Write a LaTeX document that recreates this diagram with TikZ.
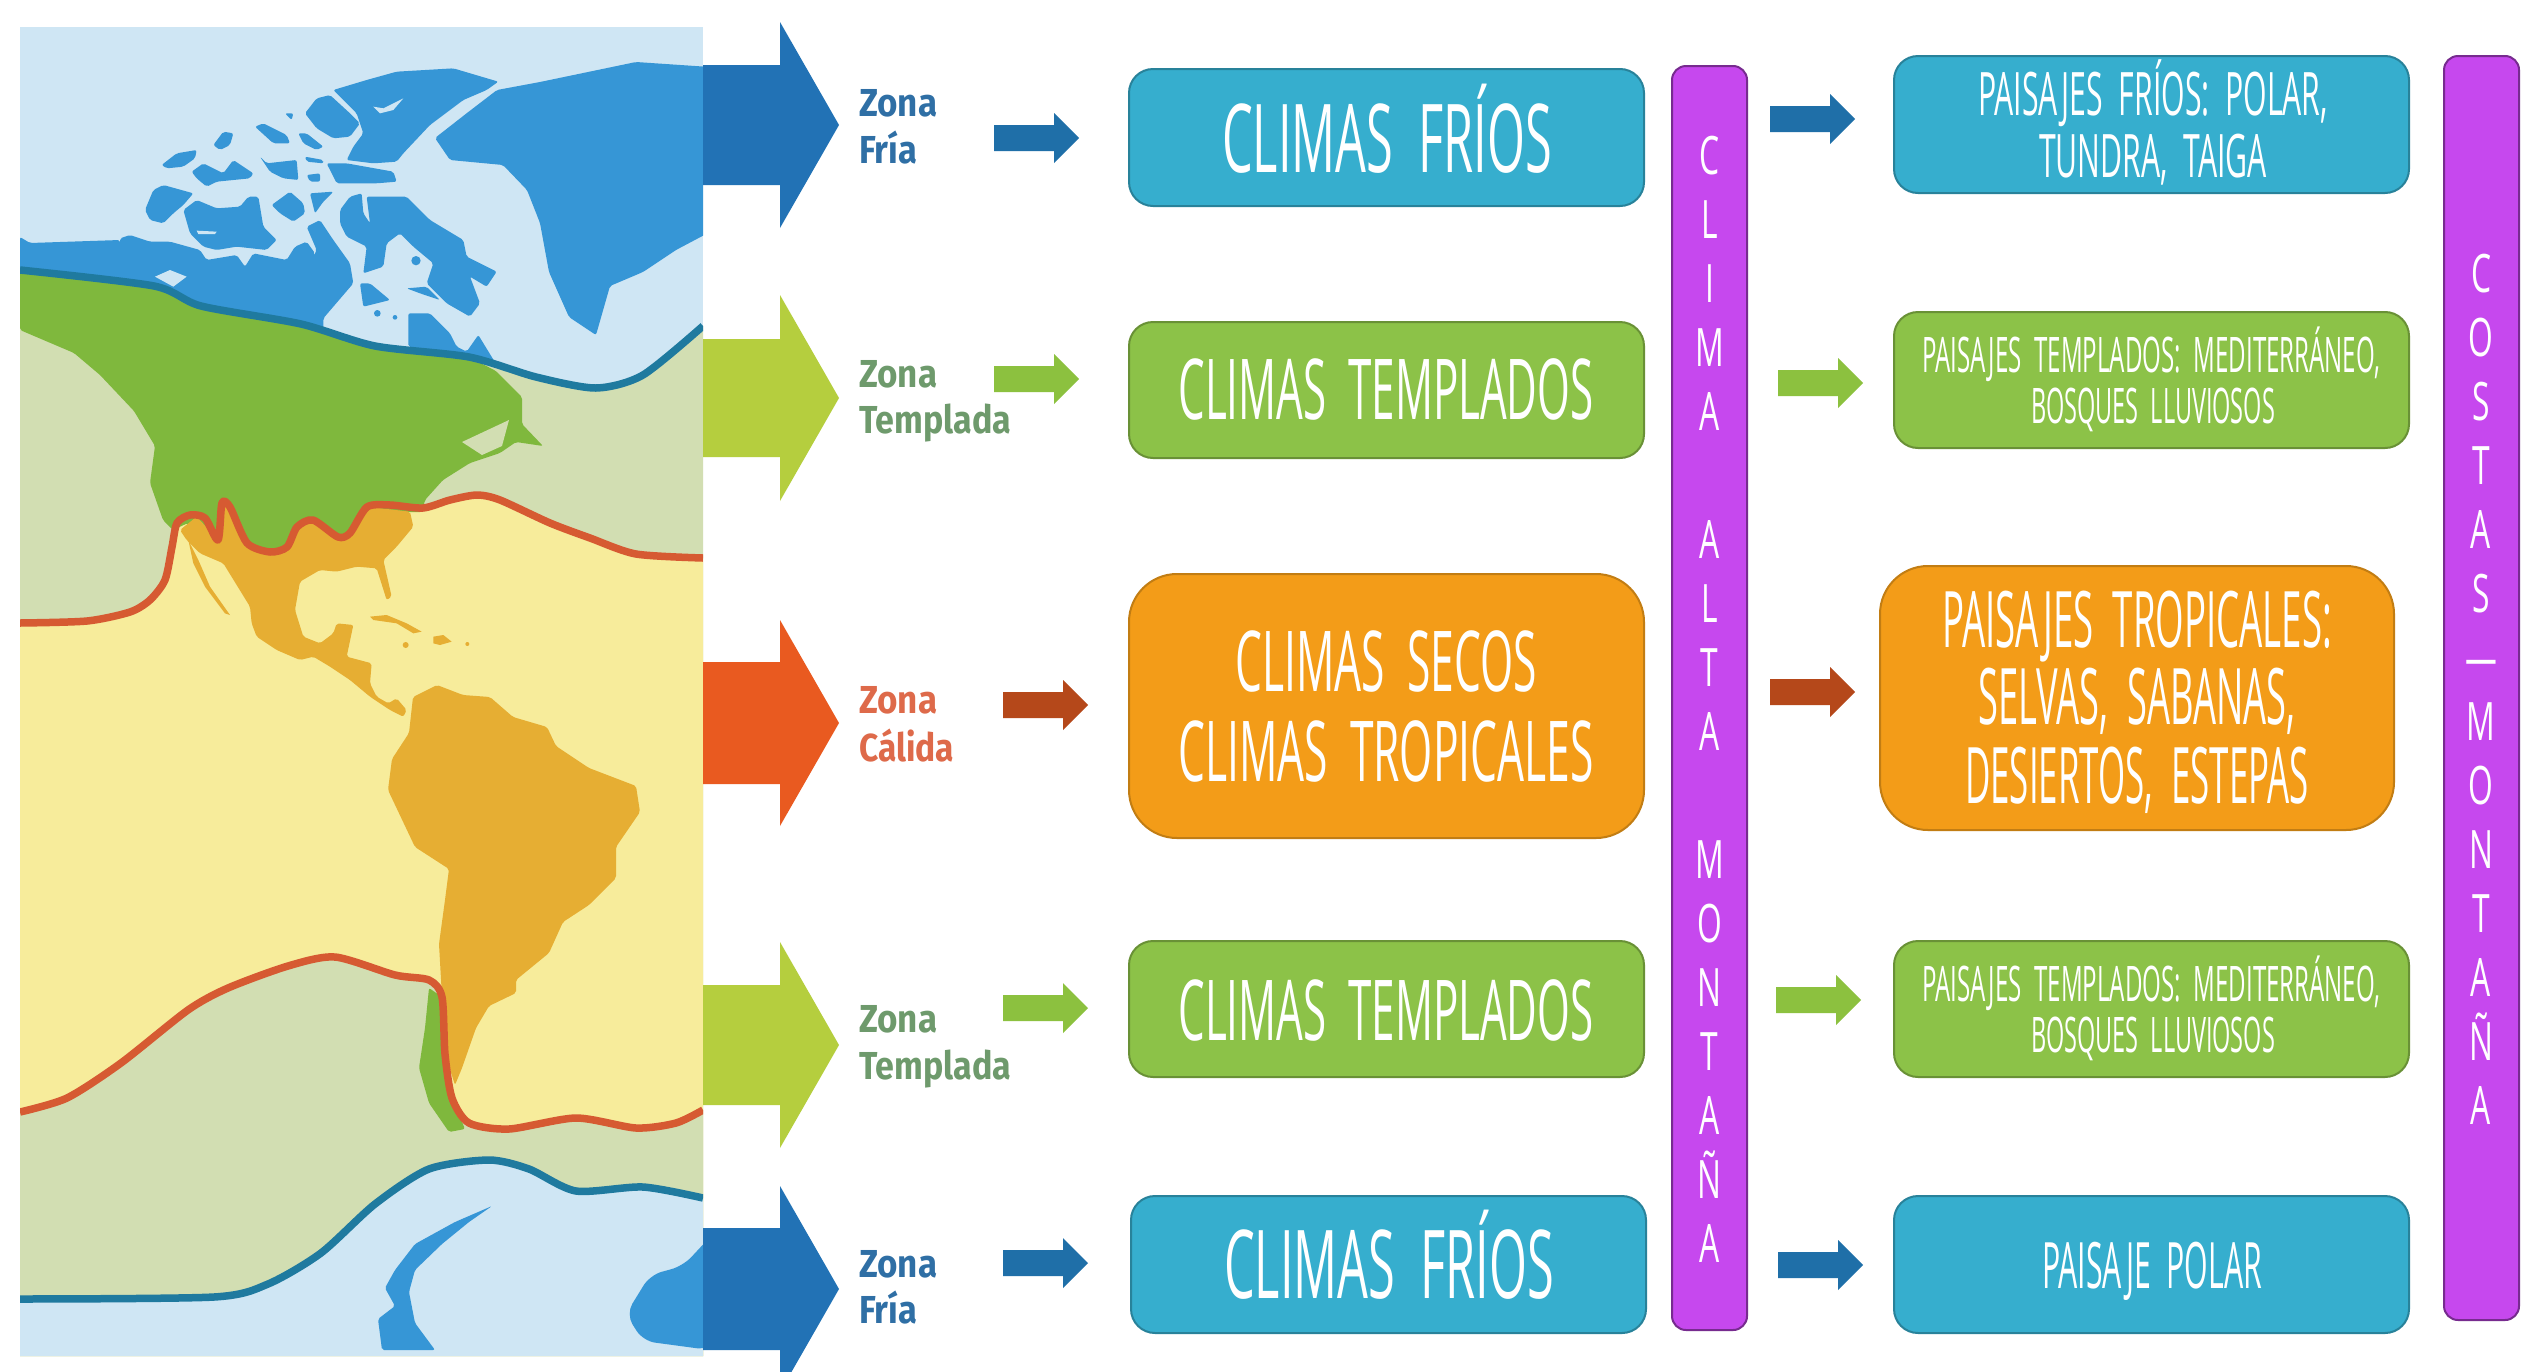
\documentclass[tikz,border=0pt]{standalone}
\usepackage{fontspec}
\usepackage{graphicx}
\setmainfont{Open Sans}
\newfontfamily\hand{Open Sans}
\newfontfamily\handv[FakeStretch=0.6]{Open Sans}
\newfontfamily\zonaf{Fira Sans}
\definecolor{iceblue}{HTML}{CFE6F4}
\definecolor{tempz}{HTML}{D2DEB2}
\definecolor{tropz}{HTML}{F7EC9B}
\definecolor{landblue}{HTML}{3696D6}
\definecolor{landgreen}{HTML}{7FB83D}
\definecolor{landor}{HTML}{E6AE33}
\definecolor{linered}{HTML}{D65A32}
\definecolor{lineblue}{HTML}{1F7A9F}
\definecolor{bigblue}{HTML}{2272B5}
\definecolor{biggreen}{HTML}{B5CE3E}
\definecolor{bigred}{HTML}{E95A20}
\definecolor{arrblue}{HTML}{1F6FA8}
\definecolor{arrgreen}{HTML}{8CC13F}
\definecolor{arrrust}{HTML}{B5481A}
\definecolor{boxteal}{HTML}{36AECE}
\definecolor{boxgreen}{HTML}{8CC248}
\definecolor{boxorange}{HTML}{F39C18}
\definecolor{boxpurple}{HTML}{C648EE}
\definecolor{txblue}{HTML}{2F6FA5}
\definecolor{txgreen}{HTML}{6E9A6C}
\definecolor{txred}{HTML}{DE6A4A}
\newcommand\fitw[3]{{\fontsize{#2}{#2}\selectfont\resizebox{#1pt}{\height}{#3}}}
\newcommand\zonafit[2]{{\fontsize{39}{39}\selectfont\resizebox{#1pt}{\height}{#2}}}
\newcommand\blockarrow[7]{\fill[#1] (#2,#3-#6) -- (#4,#3-#6) -- (#4,#3-#7) -- (#5,#3) -- (#4,#3+#7) -- (#4,#3+#6) -- (#2,#3+#6) -- cycle;}
\newcommand\smallarrow[3]{\blockarrow{#1}{#2}{#3}{#2+60}{#2+85}{13}{25}}
\def\bN{(20,270)(154,286)(201,306)(301,324)(375,346)(469,357)(536,377)(596,388)(643,375)(703,326)}
\def\bU{(20,623)(87,621)(130,612)(150,600)(165,580)(172,547)(177,523)(190,515)(205,518)(218,540)(222,503)(230,507)(247,543)(270,552)(287,547)(297,527)(313,520)(338,537)(350,533)(367,507)(390,505)(423,508)(450,500)(477,495)(500,500)(550,523)(590,538)(636,554)(703,558)}
\def\bL{(20,1112)(67,1098)(121,1063)(188,1010)(228,988)(288,966)(335,957)(395,975)(429,980)(442,997)(445,1054)(452,1098)(469,1123)(509,1129)(576,1118)(636,1128)(676,1123)(703,1110)}
\def\bS{(20,1299)(214,1297)(268,1284)(321,1253)(375,1204)(429,1169)(489,1160)(529,1169)(576,1191)(643,1187)(703,1198)}
\tikzset{
 x=1pt,y=-1pt,
 softplot/.style={smooth,tension=.45},
 zoneline/.style={line width=7.5pt,line join=round},
 land/.style={rounded corners=2pt},
 climabox/.style={draw,line width=2pt,rounded corners=#1},
 climabox/.default=24pt,
 tealbox/.style={fill=boxteal,draw=boxteal!75!black},
 greenbox/.style={fill=boxgreen,draw=boxgreen!75!black},
 orangebox/.style={fill=boxorange,draw=boxorange!80!black},
 purplebox/.style={fill=boxpurple,draw=boxpurple!60!black,draw,line width=2pt,rounded corners=14pt},
 boxtext/.style={anchor=base,text=white,inner sep=0pt,font=\hand},
 columntext/.style={text=white,inner sep=0pt,align=center,font=\handv\fontsize{53}{64}\selectfont},
 zonatext/.style={anchor=base west,inner sep=0pt,font=\zonaf\bfseries},
}
\begin{document}
\begin{tikzpicture}
\useasboundingbox (0,0) rectangle (2521,1371);
\fill[white] (0,0) rectangle (2521,1371);
\begin{scope}
\clip (20,27) rectangle (703,1356);
\fill[iceblue] (20,27) rectangle (703,1356);
\fill[tempz] plot[softplot] coordinates {\bN} -- (703,1356) -- (20,1356) -- cycle;
\fill[tropz] plot[softplot] coordinates {\bU} -- (703,1356) -- (20,1356) -- cycle;
\fill[tempz] plot[softplot] coordinates {\bL} -- (703,1356) -- (20,1356) -- cycle;
\fill[iceblue] plot[softplot] coordinates {\bS} -- (703,1356) -- (20,1356) -- cycle;
% Greenland, southern lands, west Arctic coast
\begin{scope}[landblue]
\fill[land] (435,138) -- (467,113) -- (497,90) -- (540,82) -- (636,62) -- (710,67) -- (710,232) -- (676,250) -- (643,272) -- (610,286) -- (596,335) -- (569,317) -- (549,272) -- (540,223) -- (527,190) -- (503,165) -- (450,160) -- cycle;
\fill[iceblue] (520,205) -- (535,225) -- (540,255) -- (530,240) -- cycle;
\fill[land] (20,237) -- (30,243) -- (120,240) -- (130,300) -- (20,300) -- cycle;
\fill[land] (492,1206) -- (455,1222) -- (415,1244) -- (395,1270) -- (385,1288) -- (395,1306) -- (378,1319) -- (382,1350) -- (435,1350) -- (415,1323) -- (409,1292) -- (415,1270) -- (442,1244) -- (469,1222) -- cycle;
\fill[rounded corners=12pt] (710,1237) -- (683,1266) -- (650,1275) -- (626,1314) -- (643,1341) -- (710,1350) -- cycle;
\end{scope}
% Canadian Arctic, traced in a local grid
\begin{scope}[shift={(120,50)},x=.33333pt,y=-.33333pt,landblue]
\fill[land] (0,565) -- (30,555) -- (90,575) -- (150,575) -- (240,600) -- (260,630) -- (350,615) -- (375,650) -- (400,610) -- (500,630) -- (525,590) -- (560,575) -- (585,610) -- (570,640) -- (590,600) -- (560,530) -- (600,510) -- (640,570) -- (690,640) -- (700,700) -- (640,770) -- (610,805) -- (610,840) -- (480,810) -- (300,785) -- (190,770) -- (130,720) -- (0,700) -- cycle;
\fill[iceblue] (105,680) -- (150,660) -- (200,680) -- (160,710) -- cycle;
\fill[land] (75,480) -- (100,420) -- (130,405) -- (220,430) -- (190,465) -- (160,490) -- (130,520) -- (90,510) -- cycle;
\fill[land] (190,480) -- (230,450) -- (290,475) -- (360,470) -- (385,440) -- (415,440) -- (430,530) -- (470,570) -- (440,600) -- (350,590) -- (290,600) -- (250,590) -- (210,550) -- cycle;
\fill[iceblue] (230,542) -- (290,545) -- (285,552) -- (235,552) -- cycle;
\fill[land] (125,345) -- (170,310) -- (230,300) -- (225,325) -- (190,350) -- (140,355) -- cycle;
\fill[land] (215,365) -- (250,340) -- (310,370) -- (340,330) -- (400,370) -- (390,385) -- (290,395) -- (260,410) -- (230,385) -- cycle;
\fill[land] (280,285) -- (310,245) -- (340,250) -- (330,285) -- (300,300) -- cycle;
\fill[land] (405,230) -- (430,220) -- (500,255) -- (510,280) -- (460,280) -- cycle;
\fill[land] (495,190) -- (520,190) -- (515,210) -- cycle;
\fill[land] (535,250) -- (560,250) -- (610,290) -- (590,300) -- (550,280) -- cycle;
\fill[land] (420,320) -- (440,340) -- (530,330) -- (535,390) -- (490,385) -- (450,365) -- cycle;
\fill[land] (555,320) -- (610,330) -- (610,340) -- (560,335) -- cycle;
\fill[land] (560,375) -- (600,370) -- (600,395) -- (570,395) -- cycle;
\fill[land] (555,190) -- (590,145) -- (630,135) -- (690,190) -- (720,220) -- (690,260) -- (640,265) -- (590,235) -- cycle;
\fill[land] (640,120) -- (740,90) -- (830,65) -- (1000,55) -- (1135,95) -- (1100,120) -- (1030,150) -- (930,225) -- (850,310) -- (830,335) -- (760,340) -- (680,330) -- (700,290) -- (730,250) -- (710,190) -- cycle;
\fill[iceblue] (760,170) -- (790,175) -- (850,145) -- (820,180) -- (780,190) -- cycle;
\fill[land] (620,340) -- (680,340) -- (820,365) -- (830,395) -- (770,400) -- (650,400) -- cycle;
\fill[land] (455,465) -- (510,425) -- (550,460) -- (555,490) -- (520,515) -- (480,490) -- cycle;
\fill[land] (570,430) -- (640,425) -- (610,455) -- (585,490) -- cycle;
\fill[land] (660,480) -- (690,440) -- (725,430) -- (730,490) -- (750,520) -- (740,440) -- (790,440) -- (860,440) -- (930,510) -- (1030,570) -- (1040,620) -- (1130,665) -- (1100,710) -- (1050,680) -- (1080,760) -- (1050,800) -- (980,760) -- (920,700) -- (940,640) -- (880,590) -- (840,550) -- (800,580) -- (790,650) -- (730,670) -- (740,590) -- (680,560) -- (660,520) -- cycle;
\fill[land] (860,715) -- (920,710) -- (960,750) -- (900,730) -- cycle;
\fill[land] (720,700) -- (750,700) -- (810,750) -- (730,770) -- cycle;
\fill[land] (865,790) -- (930,790) -- (990,850) -- (1010,890) -- (1040,905) -- (1075,855) -- (1130,945) -- (865,890) -- cycle;
\fill (888,632) circle (14);
\fill (772,790) circle (10);
\fill (825,802) circle (7);
\end{scope}
% North America
\fill[landgreen,land] (20,270) -- (154,286) -- (201,306) -- (301,324) -- (375,346) -- (469,357) -- (496,371) -- (522,397) -- (522,424) -- (543,446) -- (516,442) -- (500,453) -- (470,463) -- (443,480) -- (425,500) -- (422,512) -- (382,512) -- (362,518) -- (342,540) -- (311,525) -- (288,550) -- (268,556) -- (248,547) -- (221,508) -- (218,545) -- (188,523) -- (173,530) -- (163,520) -- (150,483) -- (155,446) -- (134,411) -- (100,375) -- (74,353) -- (20,330) -- cycle;
\fill[tempz] (462,442) -- (509,420) -- (502,446) -- (482,455) -- cycle;
% Mexico, Central America, Caribbean
\begin{scope}[shift={(130,440)},x=.33333pt,y=-.33333pt,landor]
\fill[land] (150,270) -- (200,230) -- (265,300) -- (275,190) -- (320,230) -- (350,320) -- (420,335) -- (470,320) -- (500,260) -- (550,240) -- (625,290) -- (660,280) -- (710,200) -- (840,215) -- (850,260) -- (800,320) -- (760,360) -- (785,470) -- (770,480) -- (740,385) -- (680,380) -- (620,395) -- (570,390) -- (510,425) -- (495,510) -- (520,590) -- (570,610) -- (610,580) -- (620,550) -- (670,555) -- (650,650) -- (725,670) -- (720,730) -- (740,770) -- (775,790) -- (800,775) -- (830,810) -- (820,830) -- (780,810) -- (720,770) -- (660,720) -- (600,680) -- (550,650) -- (510,660) -- (440,630) -- (380,590) -- (365,550) -- (360,500) -- (280,370) -- (210,340) -- (170,300) -- cycle;
\fill (175,300) -- (205,360) -- (240,440) -- (300,525) -- (285,520) -- (225,440) -- (190,370) -- cycle;
\fill (720,530) -- (770,525) -- (830,550) -- (875,575) -- (850,580) -- (800,550) -- (730,540) -- cycle;
\fill (910,590) -- (940,585) -- (965,605) -- (930,615) -- (910,610) -- cycle;
\fill (827,615) circle (9);
\fill (1012,612) circle (6);
\end{scope}
% South America
\fill[landor,land] (413,697) -- (437,685) -- (463,695) -- (490,697) -- (513,717) -- (547,727) -- (556,746) -- (589,768) -- (636,786) -- (640,812) -- (616,847) -- (616,878) -- (589,905) -- (563,922) -- (549,953) -- (516,980) -- (516,993) -- (489,1006) -- (476,1028) -- (462,1068) -- (455,1085) -- (445,1054) -- (442,997) -- (439,944) -- (445,900) -- (449,869) -- (415,847) -- (388,790) -- (392,759) -- (409,733) -- cycle;
\fill[landgreen,land] (429,988) -- (442,997) -- (445,1054) -- (452,1098) -- (465,1129) -- (449,1132) -- (429,1103) -- (419,1068) -- (425,1028) -- cycle;
% zone boundaries
\draw[zoneline,lineblue] plot[softplot] coordinates {\bN};
\draw[zoneline,linered] plot[softplot] coordinates {\bU};
\draw[zoneline,linered] plot[softplot] coordinates {\bL};
\draw[zoneline,lineblue] plot[softplot] coordinates {\bS};
\end{scope}
% big arrows
\blockarrow{bigblue}{703}{125}{780}{839}{60}{103}
\blockarrow{biggreen}{703}{398}{780}{839}{59}{103}
\blockarrow{bigred}{703}{723}{780}{839}{61}{103}
\blockarrow{biggreen}{703}{1045}{780}{839}{60}{103}
\blockarrow{bigblue}{703}{1289}{780}{839}{61}{103}
% zone labels
\node[zonatext,text=txblue] (z1a) at (859,116) {\zonafit{78}{Zona}};
\node[zonatext,text=txblue] (z1b) at (859,163) {\zonafit{58}{Fría}};
\node[zonatext,text=txgreen] (z2a) at (859,387) {\zonafit{78}{Zona}};
\node[zonatext,text=txgreen] (z2b) at (859,433) {\zonafit{152}{Templada}};
\node[zonatext,text=txred] (z3a) at (859,713) {\zonafit{78}{Zona}};
\node[zonatext,text=txred] (z3b) at (859,761) {\zonafit{95}{Cálida}};
\node[zonatext,text=txgreen] (z4a) at (859,1032) {\zonafit{78}{Zona}};
\node[zonatext,text=txgreen] (z4b) at (859,1079) {\zonafit{152}{Templada}};
\node[zonatext,text=txblue] (z5a) at (859,1277) {\zonafit{78}{Zona}};
\node[zonatext,text=txblue] (z5b) at (859,1323) {\zonafit{58}{Fría}};
% small arrows
\smallarrow{arrblue}{994}{138}
\smallarrow{arrgreen}{994}{379}
\smallarrow{arrrust}{1003}{705}
\smallarrow{arrgreen}{1003}{1008}
\smallarrow{arrblue}{1003}{1263}
\smallarrow{arrblue}{1770}{119}
\smallarrow{arrgreen}{1778}{383}
\smallarrow{arrrust}{1770}{692}
\smallarrow{arrgreen}{1776}{1000}
\smallarrow{arrblue}{1778}{1265}
% climate boxes
\path[climabox,tealbox] (1129,69) rectangle (1644,206);
\path[climabox,greenbox] (1129,322) rectangle (1644,458);
\path[climabox=48pt,orangebox] (1129,574) rectangle (1644,838);
\path[climabox,greenbox] (1129,941) rectangle (1644,1077);
\path[climabox,tealbox] (1131,1196) rectangle (1646,1333);
\path[purplebox] (1672,66) rectangle (1747,1330);
% landscape boxes
\path[climabox,tealbox] (1894,56) rectangle (2409,193);
\path[climabox,greenbox] (1894,312) rectangle (2409,448);
\path[climabox=48pt,orangebox] (1880,566) rectangle (2394,830);
\path[climabox,greenbox] (1894,941) rectangle (2409,1077);
\path[climabox,tealbox] (1894,1196) rectangle (2409,1333);
\path[purplebox] (2444,56) rectangle (2519,1320);
% box texts
\node[boxtext] (c1) at (1387,172) {\fitw{330}{95}{CLIMAS\ \ FRÍOS}};
\node[boxtext] (c2) at (1386,419) {\fitw{415}{84}{CLIMAS\ \ TEMPLADOS}};
\node[boxtext] (c3) at (1386,691) {\fitw{301}{84}{CLIMAS\ \ SECOS}};
\node[boxtext] (c4) at (1386,781) {\fitw{415}{84}{CLIMAS\ \ TROPICALES}};
\node[boxtext] (c5) at (1386,1040) {\fitw{415}{84}{CLIMAS\ \ TEMPLADOS}};
\node[boxtext] (c6) at (1389,1298) {\fitw{330}{95}{CLIMAS\ \ FRÍOS}};
\node[boxtext] (p1a) at (2153,115) {\fitw{350}{60}{PAISAJES\ \ FRÍOS:\ \ POLAR,}};
\node[boxtext] (p1b) at (2153,177) {\fitw{228}{60}{TUNDRA,\ \ TAIGA}};
\node[boxtext] (p2a) at (2151,372) {\fitw{458}{49}{PAISAJES\ \ TEMPLADOS:\ \ MEDITERRÁNEO,}};
\node[boxtext] (p2b) at (2153,423) {\fitw{244}{49}{BOSQUES\ \ LLUVIOSOS}};
\node[boxtext] (p3a) at (2137,647) {\fitw{390}{78}{PAISAJES\ \ TROPICALES:}};
\node[boxtext] (p3b) at (2137,724) {\fitw{317}{78}{SELVAS,\ \ SABANAS,}};
\node[boxtext] (p3c) at (2137,803) {\fitw{344}{78}{DESIERTOS,\ \ ESTEPAS}};
\node[boxtext] (p4a) at (2151,1001) {\fitw{458}{49}{PAISAJES\ \ TEMPLADOS:\ \ MEDITERRÁNEO,}};
\node[boxtext] (p4b) at (2153,1052) {\fitw{244}{49}{BOSQUES\ \ LLUVIOSOS}};
\node[boxtext] (p5) at (2152,1288) {\fitw{220}{64}{PAISAJE\ \ POLAR}};
\node[columntext] (clima) at (1709.5,699) {C\\L\\I\\M\\A\\\mbox{}\\A\\L\\T\\A\\\mbox{}\\M\\O\\N\\T\\A\\Ñ\\A};
\node[columntext] (costas) at (2481,689) {C\\O\\S\\T\\A\\S\\—\\M\\O\\N\\T\\A\\Ñ\\A};
\end{tikzpicture}
\end{document}
